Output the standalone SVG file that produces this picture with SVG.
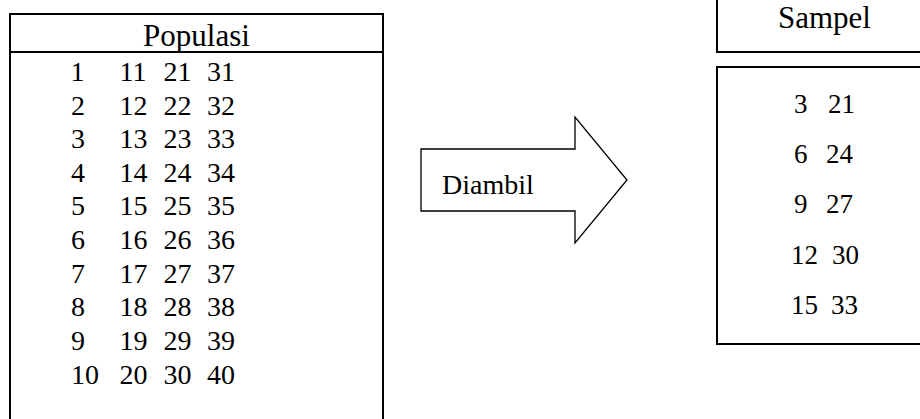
<svg xmlns="http://www.w3.org/2000/svg" width="920" height="419" viewBox="0 0 920 419">
  <style>
    .box { fill: #fff; stroke: #000; stroke-width: 2; }
    .thin { fill: #fff; stroke: #000; stroke-width: 1.3; }
    .t { font-family: "Liberation Serif", "Times New Roman", serif; fill: #000; }
    .num { font-size: 28px; }
    .snum { font-size: 27px; }
  </style>

  <!-- Population table -->
  <g id="populasi">
    <rect class="box" x="10" y="14" width="373" height="420"/>
    <line x1="10" y1="52" x2="383" y2="52" stroke="#000" stroke-width="2"/>
    <text class="t" x="196.5" y="46" font-size="31" text-anchor="middle">Populasi</text>
    <g class="t num">
      <text x="70.5" y="81">1</text><text x="119.5" y="81">11</text><text x="163.5" y="81">21</text><text x="207" y="81">31</text>
      <text x="71" y="114.6">2</text><text x="119.5" y="114.6">12</text><text x="163.5" y="114.6">22</text><text x="207" y="114.6">32</text>
      <text x="71" y="148.2">3</text><text x="119.5" y="148.2">13</text><text x="163.5" y="148.2">23</text><text x="207" y="148.2">33</text>
      <text x="71" y="181.8">4</text><text x="119.5" y="181.8">14</text><text x="163.5" y="181.8">24</text><text x="207" y="181.8">34</text>
      <text x="71" y="215.4">5</text><text x="119.5" y="215.4">15</text><text x="163.5" y="215.4">25</text><text x="207" y="215.4">35</text>
      <text x="71" y="249">6</text><text x="119.5" y="249">16</text><text x="163.5" y="249">26</text><text x="207" y="249">36</text>
      <text x="71" y="282.6">7</text><text x="119.5" y="282.6">17</text><text x="163.5" y="282.6">27</text><text x="207" y="282.6">37</text>
      <text x="71" y="316.2">8</text><text x="119.5" y="316.2">18</text><text x="163.5" y="316.2">28</text><text x="207" y="316.2">38</text>
      <text x="71" y="349.8">9</text><text x="119.5" y="349.8">19</text><text x="163.5" y="349.8">29</text><text x="207" y="349.8">39</text>
      <text x="71" y="383.5">10</text><text x="119.5" y="383.5">20</text><text x="163.5" y="383.5">30</text><text x="207" y="383.5">40</text>
    </g>
  </g>

  <!-- Block arrow -->
  <g id="connectors">
    <polygon class="thin" points="421,149 575,149 575,117 627,180 575,243 575,211 421,211"/>
    <text class="t" x="442" y="194" font-size="28">Diambil</text>
  </g>

  <!-- Sample header -->
  <g id="sampel-header">
    <rect class="box" x="717" y="-10" width="220" height="62"/>
    <text class="t" x="824.5" y="28" font-size="31" text-anchor="middle">Sampel</text>
  </g>

  <!-- Sample list -->
  <g id="sampel-list">
    <rect class="box" x="717" y="67" width="220" height="277"/>
    <g class="t snum">
      <text x="794" y="113">3</text><text x="828" y="113">21</text>
      <text x="794" y="163">6</text><text x="826" y="163">24</text>
      <text x="794" y="213">9</text><text x="826" y="213">27</text>
      <text x="791" y="264">12</text><text x="832" y="264">30</text>
      <text x="791" y="314">15</text><text x="831" y="314">33</text>
    </g>
  </g>
</svg>
